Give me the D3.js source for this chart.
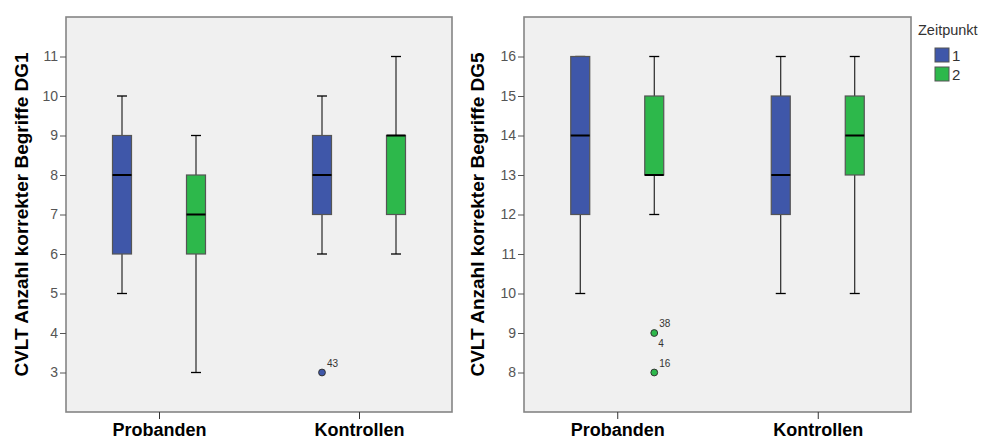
<!DOCTYPE html>
<html>
<head>
<meta charset="utf-8">
<script src="https://cdn.jsdelivr.net/npm/d3@7"></script>
<style>
  body { margin: 0; background: #fff; }
  svg { display: block; font-family: "Liberation Sans", Arial, sans-serif; }
</style>
</head>
<body>
<svg id="chart" width="981" height="439"></svg>
<script>
// categories
const groups = ["Probanden", "Kontrollen"];
const timepoints = ["1", "2"];
const timeColors = ["#3f57a9", "#2db84b"];

// box stats, order: Probanden-1, Probanden-2, Kontrollen-1, Kontrollen-2
const dg1Min    = [5, 3, 6, 6];
const dg1Q1     = [6, 6, 7, 7];
const dg1Median = [8, 7, 8, 9];
const dg1Q3     = [9, 8, 9, 9];
const dg1Max    = [10, 9, 10, 11];
const dg1Outliers = [
  { group: "Kontrollen", time: "1", value: 3, labels: ["43"] }
];
const dg1Ticks = [3, 4, 5, 6, 7, 8, 9, 10, 11];

const dg5Min    = [10, 12, 10, 10];
const dg5Q1     = [12, 13, 12, 13];
const dg5Median = [14, 13, 13, 14];
const dg5Q3     = [16, 15, 15, 15];
const dg5Max    = [16, 16, 16, 16];
const dg5Outliers = [
  { group: "Probanden", time: "2", value: 9, labels: ["38", "4"] },
  { group: "Probanden", time: "2", value: 8, labels: ["16"] }
];
const dg5Ticks = [8, 9, 10, 11, 12, 13, 14, 15, 16];

const svg = d3.select("#chart");

function buildBoxes(mins, q1s, meds, q3s, maxs) {
  const out = [];
  groups.forEach((g, gi) => {
    timepoints.forEach((t, ti) => {
      const i = gi * timepoints.length + ti;
      out.push({ group: g, time: t, ti, min: mins[i], q1: q1s[i], median: meds[i], q3: q3s[i], max: maxs[i] });
    });
  });
  return out;
}

function drawPanel(opts) {
  const top = 17, bottom = 412;
  const { x0, x1, domain, ticks, boxes, outliers, title, titleX } = opts;

  const y = d3.scaleLinear().domain(domain).range([bottom, top]);
  const x = d3.scalePoint().domain(groups).range([x0, x1]).padding(0.465);
  const sub = d3.scalePoint().domain(timepoints).range([-37, 37]);
  const boxW = 19, capW = 10;

  const g = svg.append("g");

  // plot frame
  g.append("rect")
    .attr("x", x0).attr("y", top)
    .attr("width", x1 - x0).attr("height", bottom - top)
    .attr("fill", "#f0f0f0")
    .attr("stroke", "#858585")
    .attr("stroke-width", 1.6);

  // y axis
  const yAxis = g.append("g")
    .attr("transform", `translate(${x0},0)`)
    .call(d3.axisLeft(y).tickValues(ticks).tickSize(6).tickPadding(2).tickFormat(d3.format("d")));
  yAxis.select(".domain").remove();
  yAxis.selectAll("line").attr("stroke", "#555");
  yAxis.selectAll("text").attr("fill", "#555").attr("font-size", 14).attr("font-family", "Liberation Sans, Arial, sans-serif");

  // x axis
  const xAxis = g.append("g")
    .attr("transform", `translate(0,${bottom})`)
    .call(d3.axisBottom(x).tickSize(7));
  xAxis.select(".domain").remove();
  xAxis.selectAll("line").attr("stroke", "#333");
  xAxis.selectAll("text")
    .attr("y", 23.5).attr("dy", 0)
    .attr("fill", "#000").attr("font-size", 18).attr("font-weight", "bold")
    .attr("font-family", "Liberation Sans, Arial, sans-serif");

  // y title
  g.append("text")
    .attr("transform", `translate(${titleX},${(top + bottom) / 2}) rotate(-90)`)
    .attr("text-anchor", "middle")
    .attr("font-size", 19)
    .attr("font-weight", "bold")
    .attr("fill", "#000")
    .text(title);

  // boxes
  const bx = boxes.map(d => ({ ...d, cx: x(d.group) + sub(d.time) }));
  const bg = g.selectAll("g.box").data(bx).enter().append("g").attr("class", "box");

  bg.append("line")
    .attr("x1", d => d.cx).attr("x2", d => d.cx)
    .attr("y1", d => y(d.max)).attr("y2", d => y(d.q3))
    .attr("stroke", "#000").attr("stroke-width", 1);
  bg.append("line")
    .attr("x1", d => d.cx).attr("x2", d => d.cx)
    .attr("y1", d => y(d.q1)).attr("y2", d => y(d.min))
    .attr("stroke", "#000").attr("stroke-width", 1);
  bg.append("line")
    .attr("x1", d => d.cx - capW / 2).attr("x2", d => d.cx + capW / 2)
    .attr("y1", d => y(d.max)).attr("y2", d => y(d.max))
    .attr("stroke", "#000").attr("stroke-width", 1.3);
  bg.append("line")
    .attr("x1", d => d.cx - capW / 2).attr("x2", d => d.cx + capW / 2)
    .attr("y1", d => y(d.min)).attr("y2", d => y(d.min))
    .attr("stroke", "#000").attr("stroke-width", 1.3);

  bg.append("rect")
    .attr("x", d => d.cx - boxW / 2)
    .attr("y", d => y(d.q3))
    .attr("width", boxW)
    .attr("height", d => y(d.q1) - y(d.q3))
    .attr("fill", d => timeColors[d.ti])
    .attr("stroke", "#555")
    .attr("stroke-width", 1.2);

  bg.append("line")
    .attr("x1", d => d.cx - boxW / 2).attr("x2", d => d.cx + boxW / 2)
    .attr("y1", d => y(d.median)).attr("y2", d => y(d.median))
    .attr("stroke", "#000").attr("stroke-width", 2);

  // outliers
  outliers.forEach(o => {
    const ti = timepoints.indexOf(o.time);
    const cx = x(o.group) + sub(o.time);
    const cy = y(o.value);
    g.append("circle")
      .attr("cx", cx).attr("cy", cy).attr("r", 3.4)
      .attr("fill", timeColors[ti])
      .attr("stroke", "#333").attr("stroke-width", 1);
    o.labels.forEach((lab, li) => {
      g.append("text")
        .attr("x", cx + (li === 0 ? 5 : 4))
        .attr("y", li === 0 ? cy - 6 : cy + 14)
        .attr("font-size", 10)
        .attr("fill", "#333")
        .text(lab);
    });
  });
}

drawPanel({
  x0: 66, x1: 452, domain: [2, 12], ticks: dg1Ticks,
  boxes: buildBoxes(dg1Min, dg1Q1, dg1Median, dg1Q3, dg1Max),
  outliers: dg1Outliers,
  title: "CVLT Anzahl korrekter Begriffe DG1", titleX: 28
});

drawPanel({
  x0: 524, x1: 911, domain: [7, 17], ticks: dg5Ticks,
  boxes: buildBoxes(dg5Min, dg5Q1, dg5Median, dg5Q3, dg5Max),
  outliers: dg5Outliers,
  title: "CVLT Anzahl korrekter Begriffe DG5", titleX: 484
});

// legend
const legend = svg.append("g").attr("transform", "translate(918,0)");
legend.append("text")
  .attr("x", 0).attr("y", 35)
  .attr("font-size", 14.5)
  .attr("fill", "#333")
  .text("Zeitpunkt");
const li = legend.selectAll("g.item").data(timepoints).enter().append("g")
  .attr("class", "item")
  .attr("transform", (d, i) => `translate(17,${48 + i * 19})`);
li.append("rect")
  .attr("width", 14).attr("height", 14)
  .attr("fill", (d, i) => timeColors[i])
  .attr("stroke", "#555").attr("stroke-width", 1);
li.append("text")
  .attr("x", 17).attr("y", 13)
  .attr("font-size", 15)
  .attr("fill", "#333")
  .text(d => d);
</script>
</body>
</html>
